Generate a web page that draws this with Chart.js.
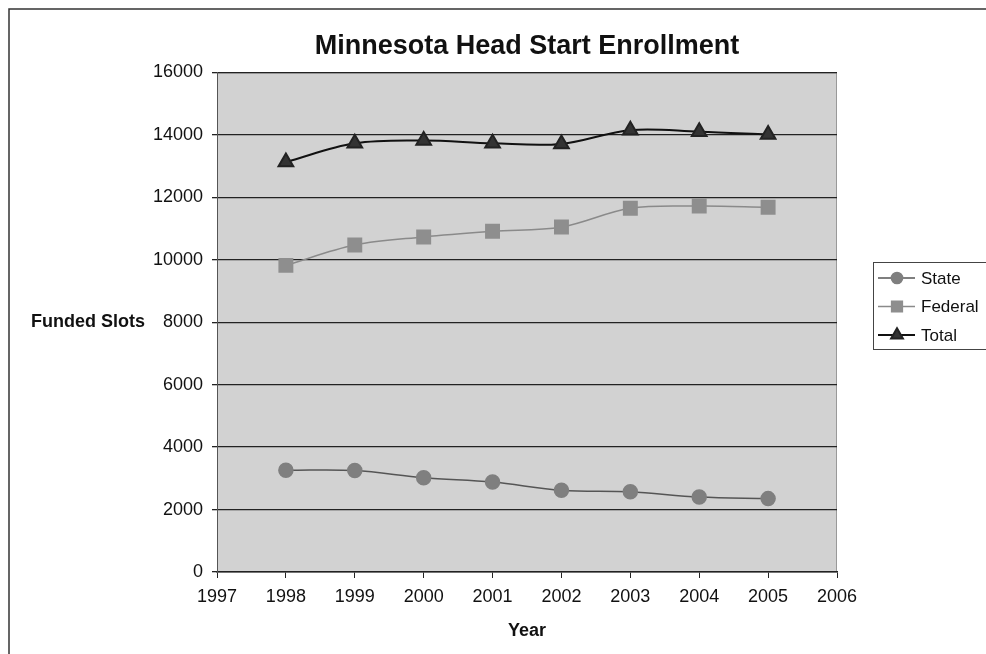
<!DOCTYPE html>
<html>
<head>
<meta charset="utf-8">
<title>Minnesota Head Start Enrollment</title>
<script src="https://cdn.jsdelivr.net/npm/chart.js@4.4.1/dist/chart.umd.min.js"></script>
<style>
    body { margin: 0; background: #fff; }
    #wrap { width: 986px; height: 654px; position: relative; }
</style>
</head>
<body>
<div id="wrap"><canvas id="chart"></canvas></div>
<script>
// values
const years = [1998, 1999, 2000, 2001, 2002, 2003, 2004, 2005];
const stateSlots = [3260, 3250, 3020, 2880, 2620, 2570, 2400, 2350];
const federalSlots = [9820, 10470, 10730, 10910, 11050, 11650, 11720, 11680];
const totalSlots = [13130, 13730, 13820, 13730, 13710, 14150, 14100, 14010];
const seriesNames = ['State', 'Federal', 'Total'];

const FONT = "Arial, 'Liberation Sans', sans-serif";

function points(values) {
    return years.map((y, i) => ({ x: y, y: values[i] }));
}

// gray plot area, page frame, y title and legend box
const decor = {
    id: 'decor',
    beforeDraw(chart) {
        const { ctx, chartArea: a } = chart;
        ctx.save();
        ctx.fillStyle = '#d2d2d2';
        ctx.fillRect(a.left, a.top, a.right - a.left, a.bottom - a.top);
        ctx.strokeStyle = '#999';
        ctx.lineWidth = 1;
        ctx.strokeRect(a.left + 0.5, a.top + 0.5, a.right - a.left - 1, a.bottom - a.top - 1);
        ctx.restore();
    },
    afterDraw(chart) {
        const { ctx } = chart;
        ctx.save();
        // frame of the scanned page
        ctx.strokeStyle = '#333';
        ctx.lineWidth = 1.5;
        ctx.beginPath();
        ctx.moveTo(9, 654);
        ctx.lineTo(9, 9);
        ctx.lineTo(986, 9);
        ctx.stroke();

        // horizontal y axis title
        ctx.fillStyle = '#111';
        ctx.font = 'bold 18px ' + FONT;
        ctx.textAlign = 'center';
        ctx.textBaseline = 'middle';
        ctx.fillText('Funded Slots', 88, 322);

        // legend
        ctx.strokeStyle = '#444';
        ctx.lineWidth = 1;
        ctx.strokeRect(873.5, 262.5, 130, 87);
        ctx.font = '17px ' + FONT;
        ctx.textAlign = 'left';
        chart.data.datasets.forEach((ds, i) => {
            const y = 278 + i * 28.5;
            ctx.strokeStyle = ds.borderColor;
            ctx.lineWidth = ds.borderWidth;
            ctx.beginPath();
            ctx.moveTo(878, y);
            ctx.lineTo(915, y);
            ctx.stroke();
            ctx.fillStyle = ds.pointBackgroundColor;
            ctx.strokeStyle = ds.pointBorderColor;
            Chart.helpers.drawPoint(ctx, {
                pointStyle: ds.pointStyle,
                radius: ds.pointRadius * 0.8,
                rotation: 0,
                borderWidth: 1
            }, 897, y);
            ctx.fillStyle = '#111';
            ctx.fillText(ds.label, 921, y + 1);
        });
        ctx.restore();
    }
};

new Chart(document.getElementById('chart'), {
    type: 'line',
    data: {
        datasets: [{
            label: seriesNames[0],
            data: points(stateSlots),
            borderColor: '#555',
            borderWidth: 1.5,
            pointStyle: 'circle',
            pointRadius: 7,
            pointBackgroundColor: '#7f7f7f',
            pointBorderColor: '#7f7f7f',
            tension: 0.35
        }, {
            label: seriesNames[1],
            data: points(federalSlots),
            borderColor: '#8a8a8a',
            borderWidth: 1.5,
            pointStyle: 'rect',
            pointRadius: 9.5,
            pointBackgroundColor: '#8e8e8e',
            pointBorderColor: '#8e8e8e',
            tension: 0.35
        }, {
            label: seriesNames[2],
            data: points(totalSlots),
            borderColor: '#111',
            borderWidth: 2,
            pointStyle: 'triangle',
            pointRadius: 8.5,
            pointBackgroundColor: '#333',
            pointBorderColor: '#222',
            tension: 0.35
        }]
    },
    options: {
        responsive: true,
        maintainAspectRatio: false,
        animation: false,
        layout: { padding: { left: 0, right: 149, top: 0, bottom: 0 } },
        plugins: {
            legend: { display: false },
            tooltip: { enabled: false },
            title: {
                display: true,
                text: 'Minnesota Head Start Enrollment',
                fullSize: false,
                color: '#111',
                font: { family: FONT, size: 27, weight: 'bold' },
                padding: { top: 30, bottom: 10 }
            }
        },
        scales: {
            x: {
                type: 'linear',
                min: 1997,
                max: 2006,
                afterFit: s => { s.height = 82; },
                ticks: {
                    stepSize: 1,
                    color: '#111',
                    font: { family: FONT, size: 18 },
                    padding: 8,
                    maxRotation: 0,
                    callback: v => String(v)
                },
                grid: { drawOnChartArea: false, color: '#222', tickLength: 6 },
                border: { color: '#222', width: 1.5 },
                title: {
                    display: true,
                    text: 'Year',
                    color: '#111',
                    font: { family: FONT, size: 18, weight: 'bold' },
                    padding: { top: 4, bottom: 12 }
                }
            },
            y: {
                min: 0,
                max: 16000,
                afterFit: s => { s.width = 217; },
                ticks: {
                    stepSize: 2000,
                    color: '#111',
                    font: { family: FONT, size: 18 },
                    padding: 9,
                    callback: v => String(v)
                },
                grid: { color: '#222', lineWidth: 1.3, tickLength: 5 },
                border: { color: '#555', width: 1 }
            }
        }
    },
    plugins: [decor]
});
</script>
</body>
</html>
